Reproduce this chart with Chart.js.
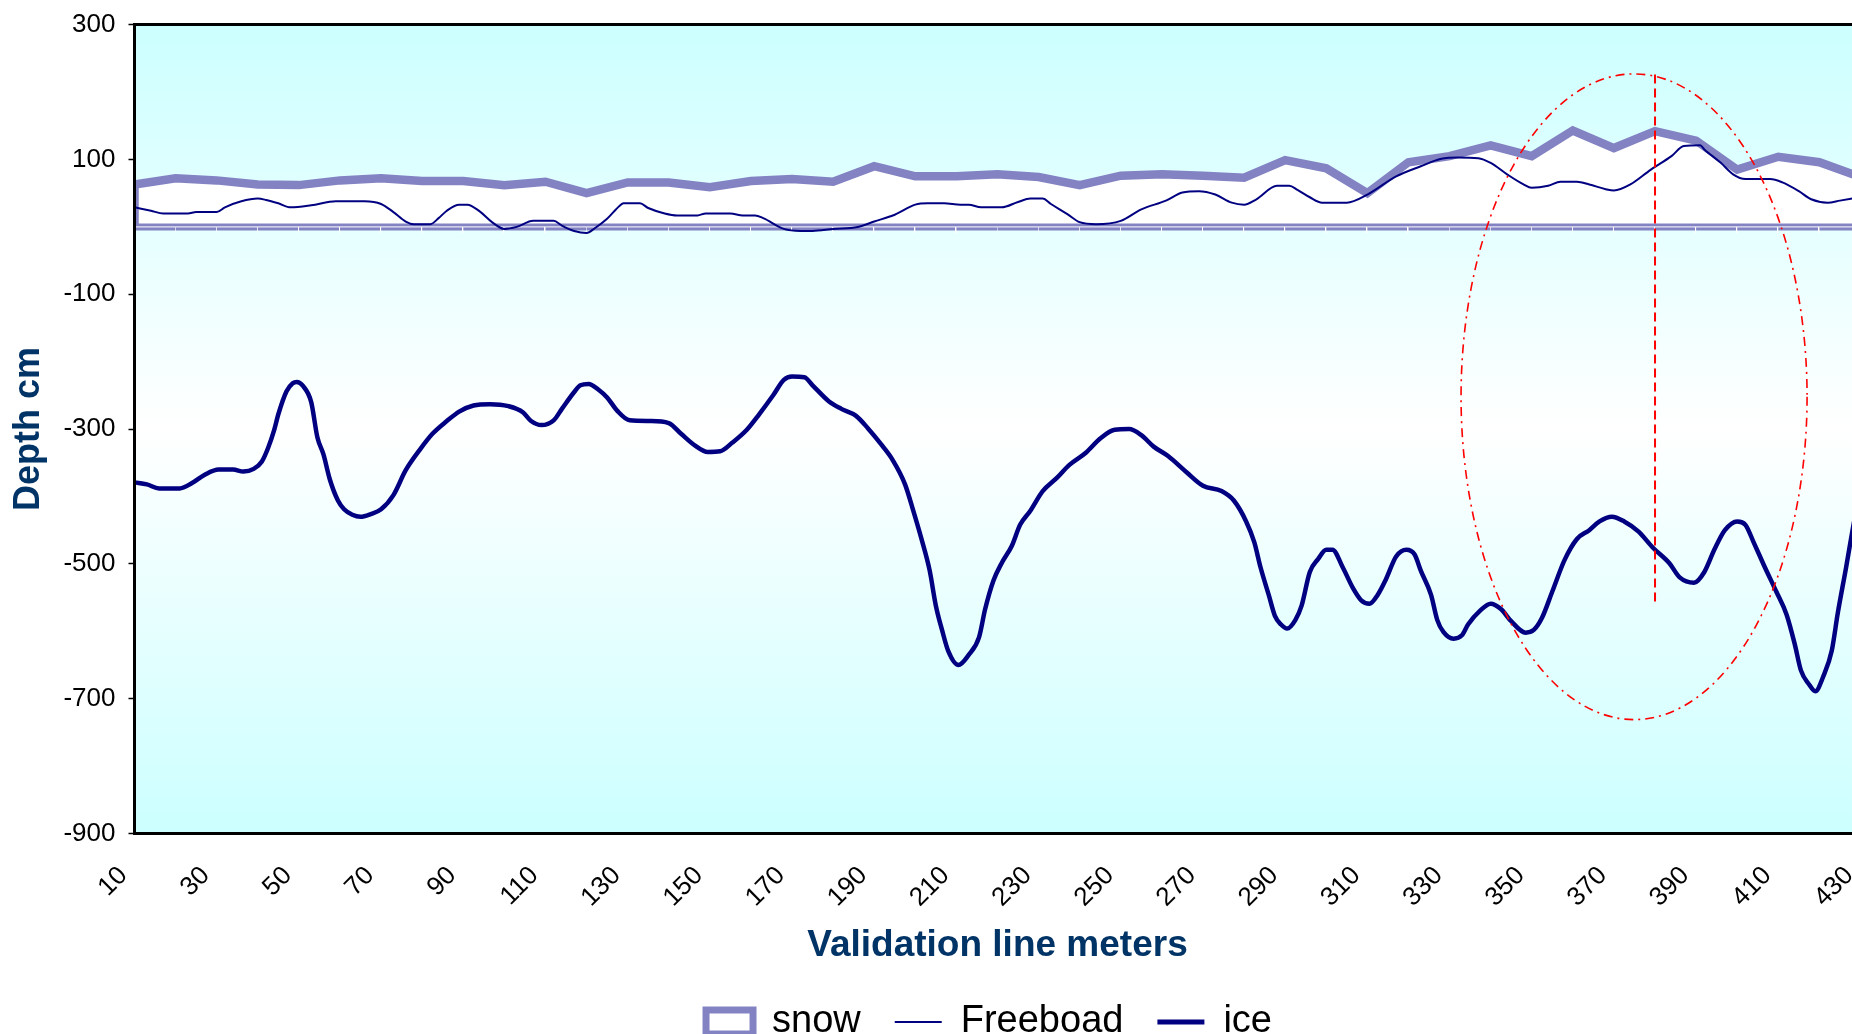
<!DOCTYPE html>
<html>
<head>
<meta charset="utf-8">
<title>Validation line depth profile</title>
<script src="https://cdn.jsdelivr.net/npm/chart.js@4.4.1/dist/chart.umd.min.js"></script>
<style>
  html, body { margin: 0; padding: 0; background: #ffffff; overflow: hidden; }
  #wrap { width: 1978px; height: 1051px; }
</style>
</head>
<body>
<div id="wrap"><canvas id="profile" width="1978" height="1051"></canvas></div>
<script>
// Axis ticks
const xTickValues = [10, 30, 50, 70, 90, 110, 130, 150, 170, 190, 210, 230, 250, 270, 290, 310, 330, 350, 370, 390, 410, 430];
const yTickValues = [-900, -700, -500, -300, -100, 100, 300];

// Snow surface (cm), one reading every 10 m
const snowMeters = [10, 20, 30, 40, 50, 60, 70, 80, 90, 100, 110, 120, 130, 140, 150, 160, 170, 180, 190, 200, 210, 220,
  230, 240, 250, 260, 270, 280, 290, 300, 310, 320, 330, 340, 350, 360, 370, 380, 390, 400, 410, 420, 430];
const snowDepth = [63, 72, 69, 63, 62, 69, 72, 68, 68, 62, 67, 50, 66, 66, 59, 68, 71, 67, 90, 75, 75, 78,
  74, 62, 76, 78, 76, 73, 99, 87, 50, 96, 105, 121, 105, 143, 117, 142, 128, 85, 104, 96, 74];

// Freeboard (cm)
const freeboardMeters = [10, 14, 17, 23, 25, 30, 32, 36, 40, 42, 45, 48, 53, 59, 66, 70, 73, 76, 78, 82, 84, 86, 89, 91,
  94, 97, 100, 103, 107, 112, 114, 117, 120, 122, 125, 128, 129, 133, 135, 139, 142, 147, 149, 155, 158, 161, 163,
  168, 172, 175, 180, 186, 190, 195, 200, 203, 207, 211, 213, 216, 221, 225, 228, 231, 233, 237, 240, 244, 250,
  255, 261, 265, 269, 273, 277, 280, 283, 288, 291, 293, 296, 299, 305, 310, 317, 323, 328, 332, 337, 340, 344,
  348, 350, 354, 357, 361, 364, 368, 370, 374, 379, 384, 387, 391, 392, 396, 399, 402, 408, 411, 415, 418, 422,
  425, 428, 430];
const freeboardDepth = [29, 24, 20, 20, 22, 22, 29, 38, 42, 40, 35, 29, 32, 38, 38, 34, 22, 8, 4, 4, 13, 24, 33, 33,
  23, 7, -3, 0, 9, 9, 2, -6, -9, -2, 12, 31, 35, 35, 28, 20, 17, 17, 20, 20, 17, 17, 13,
  -3, -6, -6, -3, 0, 8, 18, 33, 35, 35, 33, 33, 29, 29, 37, 42, 42, 34, 19, 7, 4, 9,
  26, 39, 51, 53, 48, 36, 33, 41, 61, 61, 55, 44, 36, 36, 48, 75, 90, 101, 103, 102, 95, 78,
  63, 58, 61, 67, 67, 63, 56, 54, 63, 85, 105, 120, 121, 115, 95, 78, 71, 71, 66, 53, 41, 36,
  39, 42, 44];

// Ice underside (cm)
const iceMeters = [10, 13, 16, 21, 24, 27, 30.5, 34, 36.5, 39, 41, 42.5, 44, 45, 47, 48.5, 49.5, 51, 53, 54.5, 56,
  57.5, 59.5, 61, 63, 65, 67.5, 70, 73, 76, 79.5, 82.5, 86, 89, 92.5, 96.5, 101, 104.5, 106.5, 109, 112, 114,
  117, 118.5, 120.5, 123, 125, 127.5, 130.5, 135.5, 140, 143, 146.5, 149.5, 152.5, 155.5, 159, 162, 165.5,
  168, 170, 173, 175, 179, 182, 185.5, 188.5, 192, 194.5, 197.5, 199.5, 201.5, 203.5, 205, 206.5, 208,
  210.5, 213, 215.5, 217, 219, 221, 223.5, 225.5, 228, 231, 234.5, 237.5, 241.5, 245, 248.5, 252, 255,
  258, 261.5, 266, 270, 274.5, 277.5, 280.5, 282.5, 284, 286, 287.5, 289, 290.5, 292.5, 294, 296, 298,
  300, 301.5, 304, 306.5, 308.5, 310.5, 312.5, 314.5, 317, 319.5, 321.5, 323, 325.5, 327, 328.5, 331,
  333, 334.5, 337.5, 340, 342.5, 345, 348.5, 350.5, 352.5, 355, 358, 361, 364, 366.5, 369.5, 372.5,
  376, 379.5, 383.5, 386, 389.5, 392, 394.5, 397, 400, 402, 404, 406.5, 409.5, 412, 414, 415.5, 417.5,
  419, 421, 423, 424.5, 426.5, 428, 430];
const iceDepth = [-379, -382, -388, -388, -380, -368, -360, -360, -363, -359, -348, -328, -301, -278, -244, -232, -230, -236, -260, -312, -338,
  -374, -406, -419, -427, -430, -426, -419, -398, -361, -330, -307, -288, -274, -265, -263, -266, -275, -288, -294, -287, -270,
  -245, -235, -233, -242, -253, -273, -287, -288, -291, -307, -325, -334, -333, -320, -301, -278, -249,
  -227, -222, -223, -235, -259, -270, -280, -299, -325, -346, -382, -421, -463, -510, -562, -598, -629,
  -650, -635, -609, -567, -525, -499, -473, -442, -421, -392, -372, -353, -335, -314, -301, -300, -309,
  -326, -340, -364, -384, -392, -406, -437, -468, -505, -546, -577, -590, -596, -583, -562, -512, -493,
  -479, -479, -505, -536, -554, -559, -546, -523, -489, -479, -486, -510, -546, -583, -601, -611,
  -606, -590, -569, -559, -567, -585, -602, -598, -580, -541, -494, -463, -450, -437, -430, -437,
  -452, -476, -499, -520, -528, -512, -478, -450, -437, -442, -468, -502, -541, -575, -619, -658, -679,
  -689, -666, -629, -572, -505, -452, -385];

// Highlighted stretch: ellipse (centre and half-axes in metres / cm) and marker line
const focusCenter = [374.9, -252];
const focusRadius = [42.1, 479];
const markerMeters = 380;
const markerSpan = [226, -561];

const NAVY = '#000080';
const LAVENDER = '#8383C4';

const pairs = (xs, ys) => xs.map((m, i) => ({ x: m, y: ys[i] }));

// Snow polygon closed down to the zero line at both ends
const snowOutline = [
  { x: snowMeters[0], y: 0 },
  ...pairs(snowMeters, snowDepth),
  { x: snowMeters[snowMeters.length - 1], y: 0 }
];
const zeroLine = [
  { x: snowMeters[0], y: 0 },
  { x: snowMeters[snowMeters.length - 1], y: 0 }
];

// Small white tick used along the zero line at every snow reading
const zeroTick = document.createElement('canvas');
zeroTick.width = 2;
zeroTick.height = 12;
(function () {
  const c = zeroTick.getContext('2d');
  c.fillStyle = '#FFFFFF';
  c.fillRect(0, 6, 1, 6);
})();

const plotBackdrop = {
  id: 'plotBackdrop',
  beforeDraw(chart) {
    const { ctx, chartArea: a } = chart;
    const g = ctx.createLinearGradient(0, a.top, 0, a.bottom);
    g.addColorStop(0, '#CCFFFF');
    g.addColorStop(0.5, '#FFFFFF');
    g.addColorStop(1, '#CCFFFF');
    ctx.save();
    ctx.fillStyle = g;
    ctx.fillRect(a.left, a.top, a.right - a.left, a.bottom - a.top);
    ctx.restore();
  }
};

const focusMarks = {
  id: 'focusMarks',
  afterDatasetsDraw(chart) {
    const { ctx, scales: { x, y } } = chart;
    const cx = x.getPixelForValue(focusCenter[0]);
    const cy = y.getPixelForValue(focusCenter[1]);
    const rx = Math.abs(x.getPixelForValue(focusCenter[0] + focusRadius[0]) - cx);
    const ry = Math.abs(y.getPixelForValue(focusCenter[1] + focusRadius[1]) - cy);
    ctx.save();
    ctx.strokeStyle = '#FF0000';
    ctx.lineWidth = 1.6;
    ctx.setLineDash([9, 5, 2, 5]);
    ctx.beginPath();
    ctx.ellipse(cx, cy, rx, ry, 0, 0, Math.PI * 2);
    ctx.stroke();
    const mx = x.getPixelForValue(markerMeters);
    ctx.lineWidth = 2;
    ctx.setLineDash([9, 5]);
    ctx.beginPath();
    ctx.moveTo(mx, y.getPixelForValue(markerSpan[0]));
    ctx.lineTo(mx, y.getPixelForValue(markerSpan[1]));
    ctx.stroke();
    ctx.restore();
  }
};

Chart.defaults.font.family = '"Liberation Sans", Arial, sans-serif';
Chart.defaults.color = '#000000';

new Chart(document.getElementById('profile'), {
  type: 'line',
  data: {
    datasets: [
      {
        label: 'snow',
        data: snowOutline,
        borderColor: LAVENDER,
        backgroundColor: '#FFFFFF',
        borderWidth: 8.5,
        fill: { value: 0 },
        tension: 0,
        pointRadius: 0,
        order: 4,
        legendStyle: { fill: '#FFFFFF', width: 7, shape: 'rect' }
      },
      {
        label: 'zero line',
        data: zeroLine,
        borderColor: LAVENDER,
        borderWidth: 7,
        fill: false,
        pointRadius: 0,
        order: 3
      },
      {
        label: 'zero ticks',
        data: pairs(snowMeters, snowMeters.map(() => 0)),
        borderColor: '#FFFFFF',
        borderWidth: 1,
        fill: false,
        pointStyle: zeroTick,
        pointRadius: 3,
        order: 2
      },
      {
        label: 'Freeboad',
        data: pairs(freeboardMeters, freeboardDepth),
        borderColor: NAVY,
        borderWidth: 2,
        fill: false,
        cubicInterpolationMode: 'monotone',
        pointRadius: 0,
        order: 1,
        legendStyle: { fill: NAVY, width: 2, shape: 'line' }
      },
      {
        label: 'ice',
        data: pairs(iceMeters, iceDepth),
        borderColor: NAVY,
        borderWidth: 4.5,
        borderJoinStyle: 'round',
        fill: false,
        cubicInterpolationMode: 'monotone',
        pointRadius: 0,
        order: 0,
        legendStyle: { fill: NAVY, width: 5, shape: 'line' }
      }
    ]
  },
  options: {
    responsive: false,
    maintainAspectRatio: false,
    animation: false,
    events: [],
    layout: { padding: { top: 24.5, left: 0, right: 0, bottom: 0 } },
    scales: {
      x: {
        type: 'linear',
        position: 'bottom',
        min: 10,
        max: 430,
        afterBuildTicks: (s) => { s.ticks = xTickValues.map((v) => ({ value: v })); },
        afterFit: (s) => { s.height = 135.5; },
        grid: { display: false, drawTicks: false },
        border: { display: true, color: '#000000', width: 3 },
        ticks: {
          autoSkip: false,
          minRotation: 45,
          maxRotation: 45,
          padding: 27,
          labelOffset: -11,
          font: { size: 26 },
          color: '#000000'
        },
        title: {
          display: true,
          text: 'Validation line meters',
          color: '#003366',
          font: { size: 37, weight: 'bold' },
          padding: { top: 0, bottom: 1 }
        }
      },
      xTop: {
        type: 'linear',
        position: 'top',
        min: 10,
        max: 430,
        afterFit: (s) => { s.height = 0; },
        grid: { display: false, drawTicks: false },
        border: { display: true, color: '#000000', width: 3 },
        ticks: { display: false }
      },
      y: {
        type: 'linear',
        position: 'left',
        min: -900,
        max: 300,
        afterBuildTicks: (s) => { s.ticks = yTickValues.map((v) => ({ value: v })); },
        afterFit: (s) => { s.width = 134.5; },
        grid: { display: true, drawOnChartArea: false, drawTicks: true, tickLength: 6, tickColor: '#000000', tickWidth: 1.5 },
        border: { display: true, color: '#000000', width: 3, z: 1 },
        ticks: { padding: 13, font: { size: 26, lineHeight: 0.9 }, color: '#000000' },
        title: {
          display: true,
          text: 'Depth cm',
          color: '#003366',
          font: { size: 36, weight: 'bold' },
          padding: { top: 7, bottom: 0 }
        }
      },
      yRight: {
        type: 'linear',
        position: 'right',
        afterFit: (s) => { s.width = 117.5; },
        grid: { display: false, drawTicks: false },
        border: { display: false },
        ticks: { display: false }
      }
    },
    plugins: {
      tooltip: { enabled: false },
      legend: {
        position: 'bottom',
        labels: {
          usePointStyle: true,
          pointStyleWidth: 47,
          boxHeight: 24,
          padding: 34,
          color: '#000000',
          font: { size: 38 },
          generateLabels: (chart) => chart.data.datasets
            .map((ds, i) => ({ ds, i }))
            .filter(({ ds }) => ds.legendStyle)
            .map(({ ds, i }) => ({
              text: ds.label,
              datasetIndex: i,
              fillStyle: ds.legendStyle.fill,
              strokeStyle: ds.borderColor,
              lineWidth: ds.legendStyle.width,
              pointStyle: ds.legendStyle.shape,
              hidden: false,
              fontColor: '#000000'
            }))
        }
      }
    }
  },
  plugins: [plotBackdrop, focusMarks]
});
</script>
</body>
</html>
